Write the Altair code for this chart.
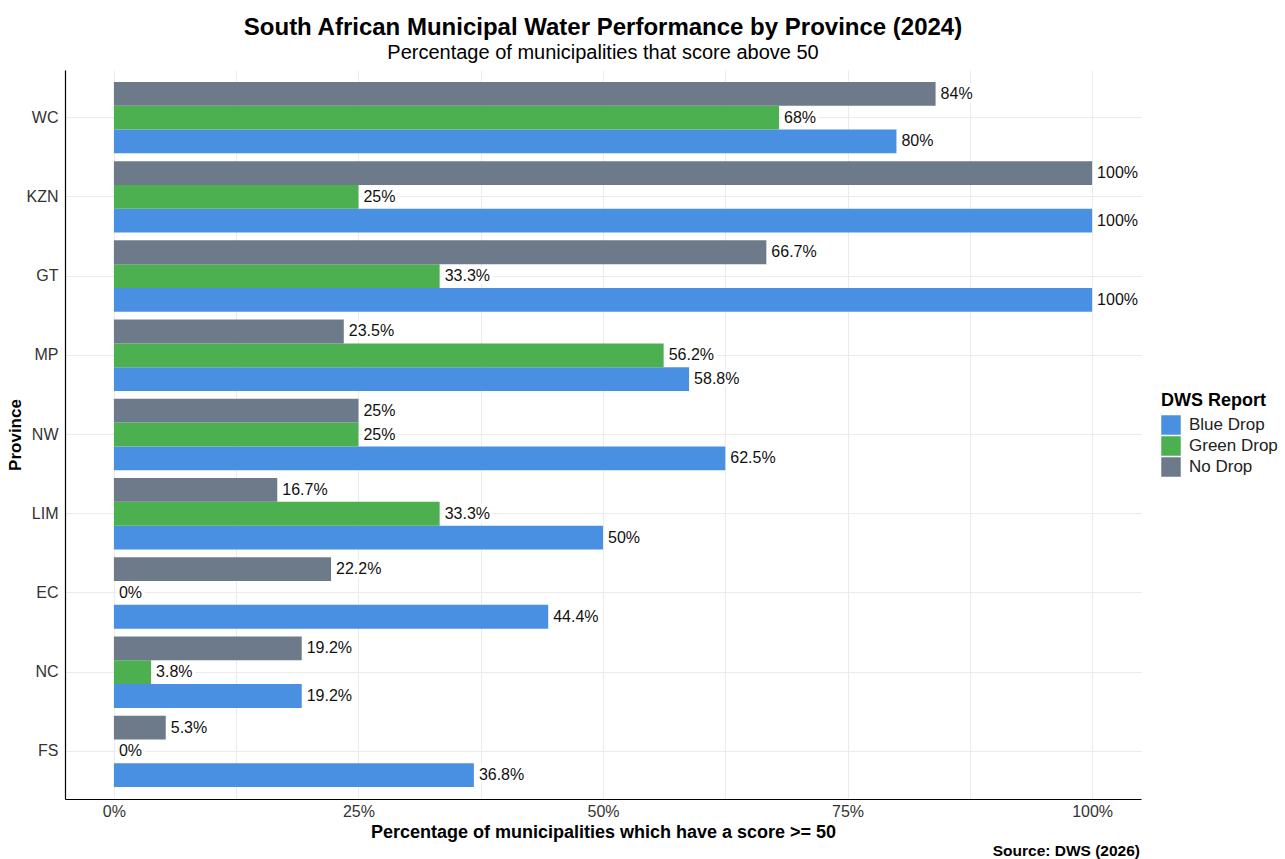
import altair as alt
import pandas as pd

provinces = ["WC", "KZN", "GT", "MP", "NW", "LIM", "EC", "NC", "FS"]
reports = ["Blue Drop", "Green Drop", "No Drop"]
blue_drop = [80, 100, 100, 58.8, 62.5, 50, 44.4, 19.2, 36.8]
green_drop = [68, 25, 33.3, 56.2, 25, 33.3, 0, 3.8, 0]
no_drop = [84, 100, 66.7, 23.5, 25, 16.7, 22.2, 19.2, 5.3]
colors = ["#4A90E2", "#4CAF50", "#6C7A89"]
x_ticks = [0, 12.5, 25, 37.5, 50, 62.5, 75, 87.5, 100]

rows = []
for rep, vals in zip(reports, [blue_drop, green_drop, no_drop]):
    for p, v in zip(provinces, vals):
        rows.append({"Province": p, "Report": rep, "Pct": v, "Label": f"{v:g}%"})
df = pd.DataFrame(rows)

FONT = "Liberation Sans"
W, H = 1076, 729
offset_order = ["No Drop", "Green Drop", "Blue Drop"]

y = alt.Y(
    "Province:N",
    sort=provinces,
    scale=alt.Scale(paddingInner=0.1, paddingOuter=0.15),
    axis=alt.Axis(
        title="Province", titleFontSize=17, titleFontWeight="bold", titleFont=FONT,
        titleAngle=270, titleAlign="center", titleBaseline="middle",
        titleX=-50, titleY=H / 2, titleColor="black",
        labelFontSize=16, labelFont=FONT, labelColor="#333333", labelPadding=7,
        ticks=False, domain=True, domainColor="black", domainWidth=1.2,
        grid=True, gridColor="#EBEBEB", gridWidth=1, bandPosition=0.5,
    ),
)
yoff = alt.YOffset(
    "Report:N", sort=offset_order,
    scale=alt.Scale(domain=offset_order, paddingInner=0, paddingOuter=0),
)
x = alt.X(
    "Pct:Q",
    scale=alt.Scale(domain=[-5, 105], nice=False),
    axis=alt.Axis(
        title="Percentage of municipalities which have a score >= 50",
        titleFontSize=18, titleFontWeight="bold", titleFont=FONT, titleColor="black",
        titlePadding=4,
        values=x_ticks,
        labelExpr="datum.value % 25 == 0 ? datum.value + '%' : ''",
        labelFontSize=16, labelFont=FONT, labelColor="#333333", labelPadding=4,
        ticks=False, domain=True, domainColor="black", domainWidth=1.2,
        grid=True, gridColor="#EBEBEB", gridWidth=1,
    ),
)

base = alt.Chart(df)

bars = base.mark_bar().encode(
    x=x, y=y, yOffset=yoff,
    color=alt.Color(
        "Report:N",
        scale=alt.Scale(domain=reports, range=colors),
        legend=alt.Legend(
            title="DWS Report", titleFontSize=18, titleFontWeight="bold", titleFont=FONT,
            titleColor="black", titlePadding=5,
            labelFontSize=17, labelFont=FONT, labelColor="#222222", labelOffset=8,
            symbolType="square", symbolSize=380, symbolStrokeWidth=0, symbolOpacity=1,
            rowPadding=1, orient="none", legendX=1096, legendY=322,
        ),
    ),
)

halo = base.mark_text(
    align="left", baseline="middle", dx=5, fontSize=16, font=FONT,
    color="white", stroke="white", strokeWidth=7, strokeJoin="round",
).encode(x="Pct:Q", y=alt.Y("Province:N", sort=provinces), yOffset=yoff, text="Label:N")

labels = base.mark_text(
    align="left", baseline="middle", dx=5, fontSize=16, font=FONT, color="#111111",
).encode(x="Pct:Q", y=alt.Y("Province:N", sort=provinces), yOffset=yoff, text="Label:N")

caption_df = pd.DataFrame({"t": ["Source: DWS (2026)"]})
caption = alt.Chart(caption_df).mark_text(
    align="right", baseline="middle", fontSize=15.5, fontWeight="bold", font=FONT, color="black",
).encode(text="t:N", x=alt.value(W - 1), y=alt.value(851 - 70))

chart = alt.layer(bars, halo, labels, caption).properties(
    width=W, height=H,
    title=alt.TitleParams(
        text="South African Municipal Water Performance by Province (2024)",
        subtitle="Percentage of municipalities that score above 50",
        fontSize=24, fontWeight="bold", font=FONT, color="black",
        subtitleFontSize=20, subtitleFont=FONT, subtitleColor="black",
        subtitlePadding=3, anchor="middle", offset=7,
    ),
    autosize=alt.AutoSizeParams(type="none"),
    padding={"left": 65, "top": 70, "right": 144, "bottom": 60},
    background="white",
).configure_view(stroke=None)

chart.save("out.html", embed_options={"renderer": "svg", "actions": False})
